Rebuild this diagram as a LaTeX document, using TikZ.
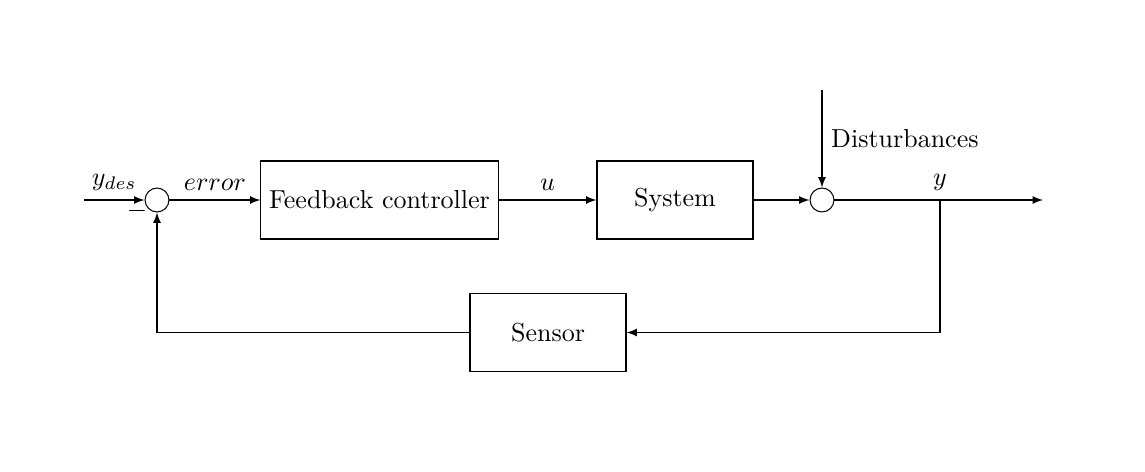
\documentclass[tikz,border=0pt]{standalone}
\usetikzlibrary{arrows}
\begin{document}
\begin{tikzpicture}[x=0.3846pt,y=-0.3846pt,
  blockbox/.style={draw, rectangle, minimum height=30pt, inner sep=0pt},
  sumcirc/.style={draw, circle, minimum size=9.2pt, inner sep=0pt},
  conn/.style={-latex}]
\useasboundingbox (0,0) rectangle (1145,471);
\coordinate (input) at (84,200);
\node[sumcirc] (sum) at (157,200) {};
\node[blockbox, minimum width=91.2pt] (controller) at (379.5,200) {Feedback controller};
\node[blockbox, minimum width=60pt] (system) at (675,200) {System};
\node[sumcirc] (sumb) at (822,200) {};
\coordinate (branch) at (940,200);
\coordinate (output) at (1043,200);
\coordinate (dist) at (822,90);
\node[blockbox, minimum width=60pt] (sensor) at (548,332.5) {Sensor};
\coordinate (fbcorner) at (157,332.5);
\coordinate (brcorner) at (940,332.5);

\draw[conn] (input) -- node[above] {$y_{des}$} (sum);
\draw[conn] (sum) -- node[above] {$error$} (controller);
\draw[conn] (controller) -- node[above] {$u$} (system);
\draw[conn] (system) -- (sumb);
\draw[conn] (dist) -- node[right, pos=0.5] {Disturbances} (sumb);
\draw[conn] (sumb) -- (output);
\node[above] (ylab) at (branch) {$y$};
\draw[conn] (branch) -- (brcorner) -- (sensor);
\draw[conn] (sensor) -- (fbcorner) -- (sum);
\node[inner sep=0pt] (minus) at (137,211) {$-$};
\end{tikzpicture}
\end{document}
